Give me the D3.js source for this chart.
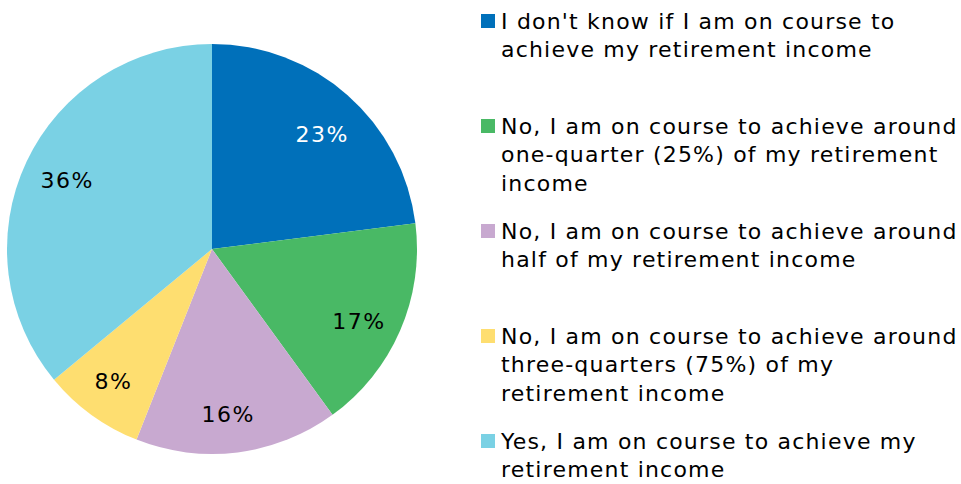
<!DOCTYPE html>
<html>
<head>
<meta charset="utf-8">
<script src="https://cdn.jsdelivr.net/npm/d3@7"></script>
<style>
  body { margin: 0; background: #fff; }
  text { font-family: "DejaVu Sans", Verdana, sans-serif; }
</style>
</head>
<body>
<div id="chart"></div>
<script>
// data
var answers = [
  ["I don't know if I am on course to", "achieve my retirement income"],
  ["No, I am on course to achieve around", "one-quarter (25%) of my retirement", "income"],
  ["No, I am on course to achieve around", "half of my retirement income"],
  ["No, I am on course to achieve around", "three-quarters (75%) of my", "retirement income"],
  ["Yes, I am on course to achieve my", "retirement income"]
];
var shares = [23, 17, 16, 8, 36];
var colors = ["#0070BA", "#49B965", "#C8A9D0", "#FEDE70", "#7AD1E4"];
var labelColors = ["#fff", "#000", "#000", "#000", "#000"];

function drawChart() {
  var width = 961, height = 484;
  var cx = 212, cy = 249, radius = 205;

  var svg = d3.select("#chart")
    .append("svg")
    .attr("width", width)
    .attr("height", height);

  var pie = d3.pie().sort(null).value(d => d);
  var arcs = pie(shares);

  var arc = d3.arc().innerRadius(0).outerRadius(radius);
  var labelArc = d3.arc().innerRadius(162).outerRadius(162);
  var nudge = 1.5 * Math.PI / 180; // labels sit a little clockwise of the middle

  var g = svg.append("g")
    .attr("transform", "translate(" + cx + "," + cy + ")");

  g.selectAll("path")
    .data(arcs)
    .enter().append("path")
    .attr("d", arc)
    .attr("fill", (d, i) => colors[i]);

  g.selectAll("text")
    .data(arcs)
    .enter().append("text")
    .attr("transform", function (d) {
      var c = labelArc.centroid({ startAngle: d.startAngle + nudge, endAngle: d.endAngle + nudge });
      return "translate(" + c[0] + "," + (c[1] + 4) + ")";
    })
    .attr("text-anchor", "middle")
    .attr("dy", "0.36em")
    .attr("font-size", "22px")
    .attr("letter-spacing", "1.5px")
    .attr("fill", (d, i) => labelColors[i])
    .text(d => d.data + "%");

  // legend
  var legend = svg.append("g").attr("transform", "translate(481,0)");
  var itemY = d3.scaleLinear().domain([0, 4]).range([21, 441]);
  var lineH = 28.5;

  answers.forEach(function (lines, i) {
    var item = legend.append("g").attr("transform", "translate(0," + itemY(i) + ")");
    item.append("rect")
      .attr("x", 0).attr("y", -7)
      .attr("width", 14).attr("height", 14)
      .attr("fill", colors[i]);
    item.selectAll("text")
      .data(lines)
      .enter().append("text")
      .attr("x", 20)
      .attr("y", (d, j) => j * lineH)
      .attr("dy", "0.36em")
      .attr("font-size", "22px")
      .attr("letter-spacing", "1.2px")
      .attr("fill", "#000")
      .text(d => d);
  });
}

window.onload = drawChart;
</script>
</body>
</html>
